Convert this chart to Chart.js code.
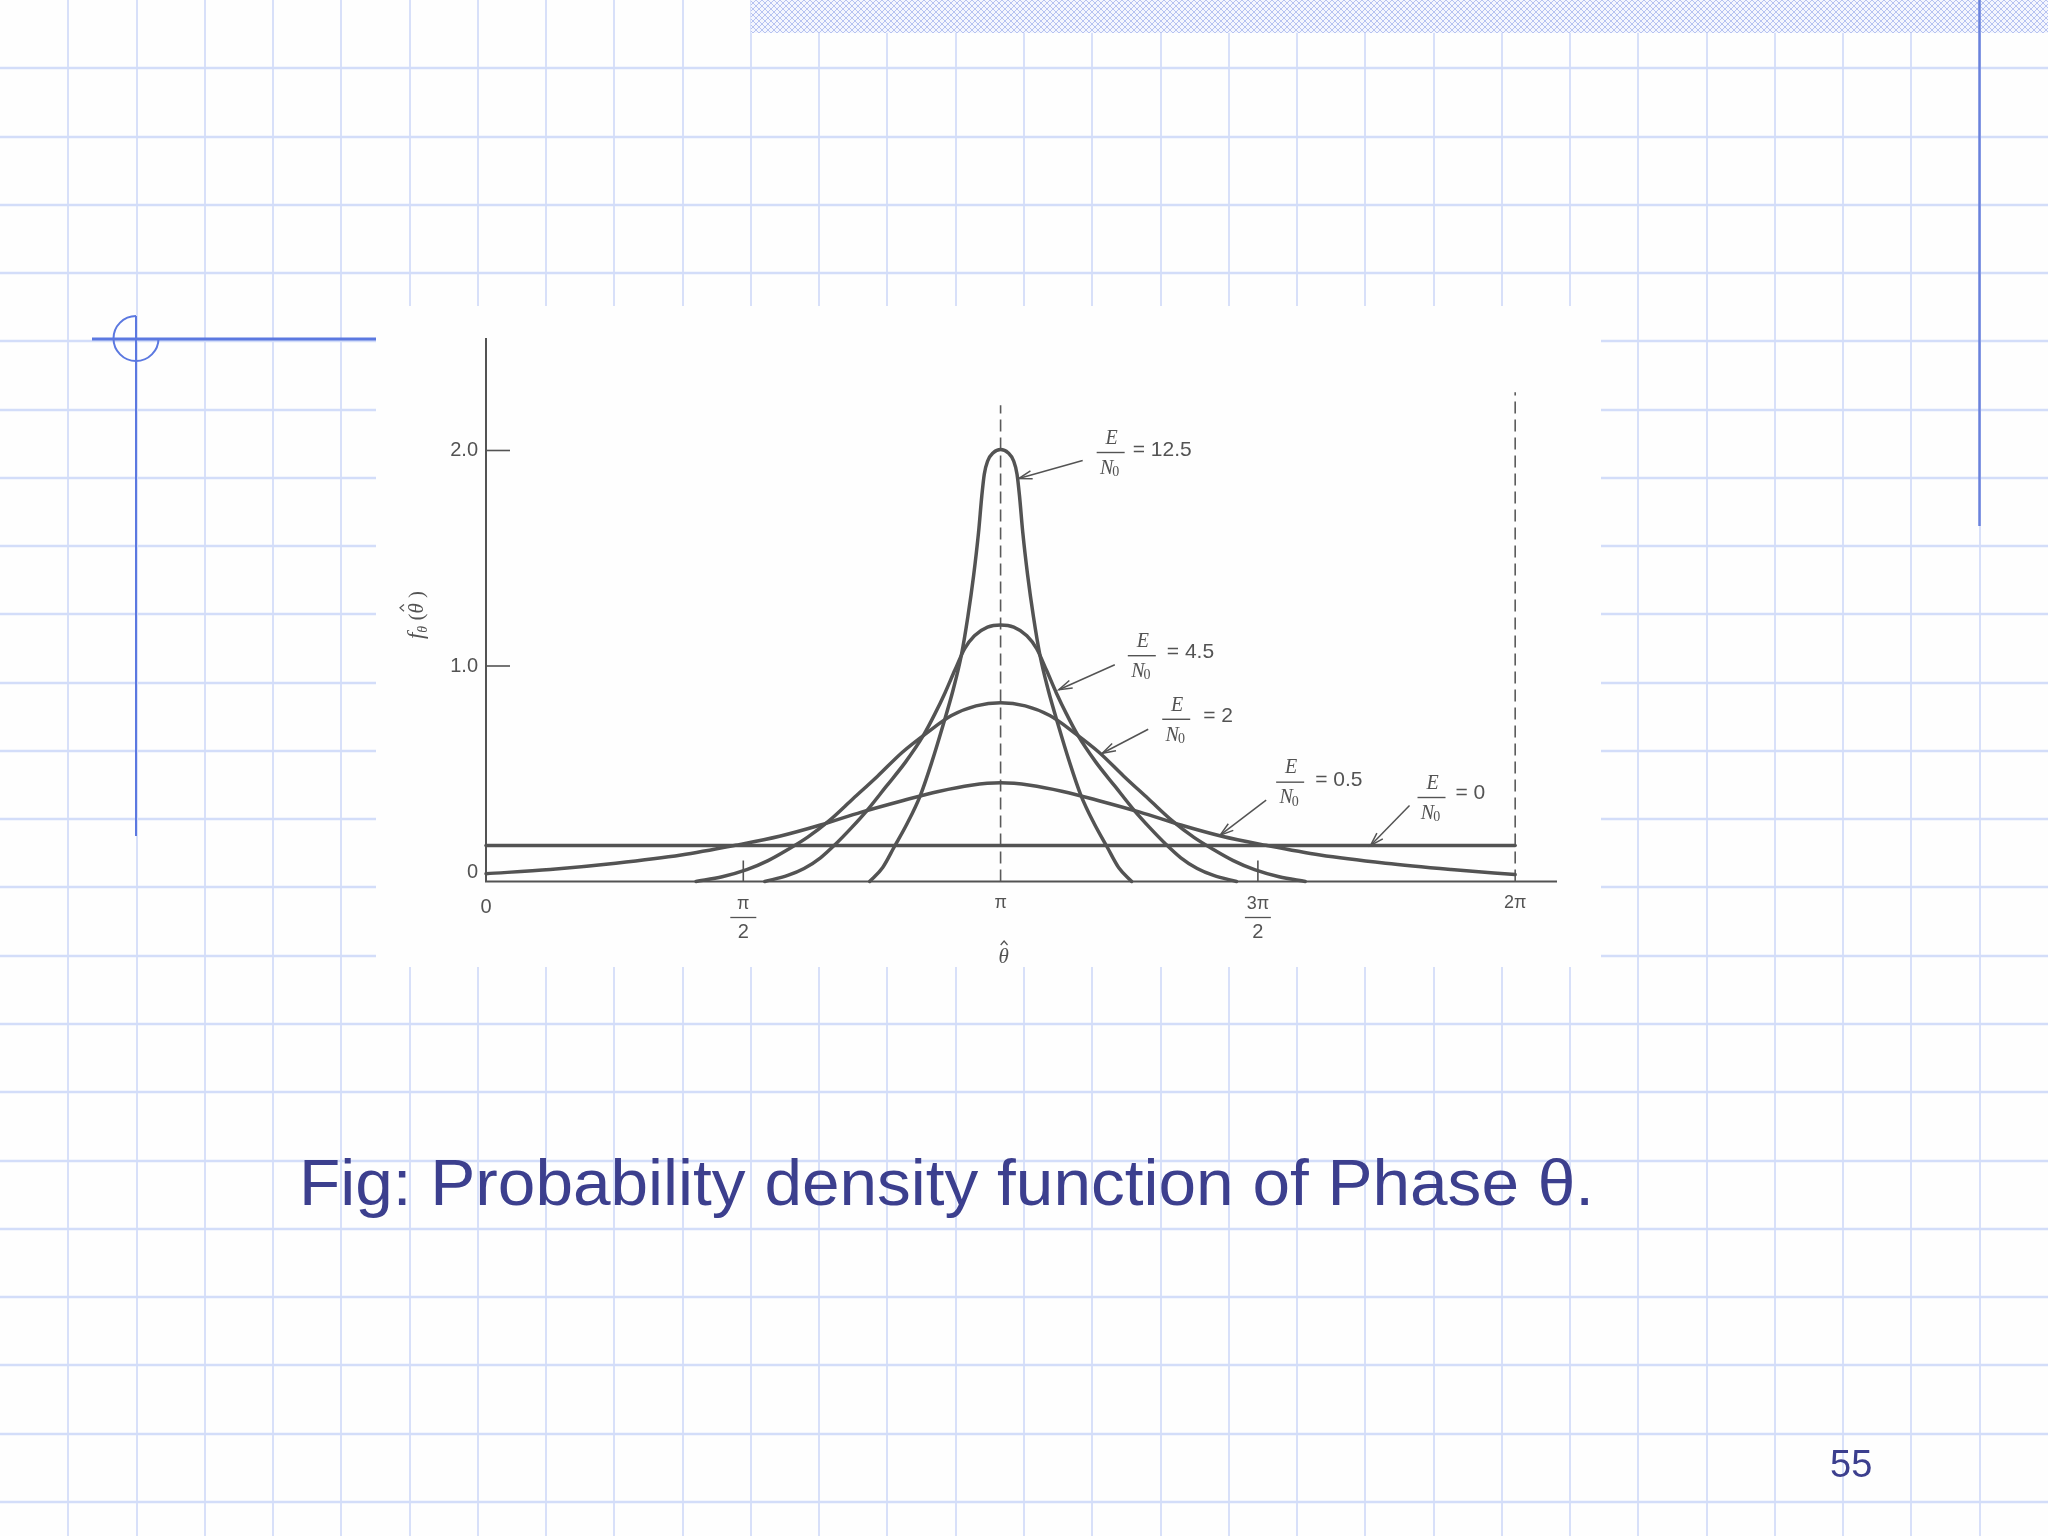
<!DOCTYPE html>
<html>
<head>
<meta charset="utf-8">
<script src="https://cdn.jsdelivr.net/npm/chart.js@4.4.0/dist/chart.umd.min.js"></script>
<style>
    html, body { margin: 0; padding: 0; background: #fefefe; }
    #page { position: relative; width: 2048px; height: 1536px; overflow: hidden; }
    #grafico { position: absolute; left: 0; top: 0; }
    #caption {
        position: absolute; left: 299px; top: 1150px;
        font-family: "Liberation Sans", Arial, sans-serif; font-size: 65px; line-height: 65px;
        color: #3c3f8e; white-space: nowrap; transform-origin: 0 0;
    }
    #pageNum {
        position: absolute; left: 1830px; top: 1445px;
        font-family: "Liberation Sans", Arial, sans-serif; font-size: 38px; line-height: 38px;
        color: #3c3f8e;
    }
</style>
</head>
<body>
<div id="page">
    <canvas id="grafico" width="2048" height="1536"></canvas>
    <div id="caption">Fig: Probability density function of Phase θ.</div>
    <div id="pageNum">55</div>
</div>
<script>
// --- Datos ---
const snrLabels = ['12.5', '4.5', '2', '0.5', '0'];

const theta125 = [2.342, 2.422, 2.492, 2.572, 2.652, 2.722, 2.792, 2.852, 2.902, 2.942, 2.977, 3.007, 3.027, 3.042, 3.062, 3.097, 3.142,
                  3.187, 3.222, 3.242, 3.257, 3.277, 3.307, 3.342, 3.382, 3.432, 3.492, 3.562, 3.632, 3.712, 3.792, 3.862, 3.942];
const f125 = [0, 0.065, 0.16, 0.27, 0.40, 0.555, 0.73, 0.89, 1.05, 1.23, 1.42, 1.62, 1.79, 1.89, 1.95, 1.99, 2.005,
              1.99, 1.95, 1.89, 1.79, 1.62, 1.42, 1.23, 1.05, 0.89, 0.73, 0.555, 0.40, 0.27, 0.16, 0.065, 0];

const theta45 = [1.702, 1.842, 1.942, 2.042, 2.132, 2.232, 2.332, 2.442, 2.562, 2.672, 2.742, 2.802, 2.862, 2.922, 2.982, 3.062, 3.142,
                 3.222, 3.302, 3.362, 3.422, 3.482, 3.542, 3.612, 3.722, 3.842, 3.952, 4.052, 4.152, 4.242, 4.342, 4.442, 4.582];
const f45 = [0, 0.028, 0.06, 0.11, 0.172, 0.25, 0.335, 0.44, 0.555, 0.68, 0.78, 0.875, 0.98, 1.08, 1.14, 1.18, 1.19,
             1.18, 1.14, 1.08, 0.98, 0.875, 0.78, 0.68, 0.555, 0.44, 0.335, 0.25, 0.172, 0.11, 0.06, 0.028, 0];

const theta2 = [1.282, 1.442, 1.592, 1.722, 1.842, 1.962, 2.092, 2.242, 2.392, 2.542, 2.692, 2.842, 2.992, 3.142,
                3.292, 3.442, 3.592, 3.742, 3.892, 4.042, 4.192, 4.322, 4.442, 4.562, 4.692, 4.842, 5.002];
const f2 = [0, 0.022, 0.055, 0.097, 0.148, 0.205, 0.28, 0.385, 0.49, 0.60, 0.69, 0.77, 0.815, 0.83,
            0.815, 0.77, 0.69, 0.60, 0.49, 0.385, 0.28, 0.205, 0.148, 0.097, 0.055, 0.022, 0];

const theta05 = [0, 0.392, 0.792, 1.192, 1.522, 1.792, 2.042, 2.292, 2.542, 2.762, 2.962, 3.142,
                 3.322, 3.522, 3.742, 3.992, 4.242, 4.492, 4.762, 5.092, 5.492, 5.892, 6.283];
const f05 = [0.036, 0.056, 0.085, 0.123, 0.168, 0.21, 0.262, 0.322, 0.375, 0.418, 0.447, 0.458,
             0.447, 0.418, 0.375, 0.322, 0.262, 0.21, 0.168, 0.123, 0.085, 0.056, 0.032];

const theta0 = [0, 6.283];
const f0 = [0.167, 0.167];

// lineas punteadas verticales en pi y 2pi
const guideTheta = [Math.PI, 2 * Math.PI];
const guideTop = [2.21, 2.27];

const xTickValues = [0, Math.PI / 2, Math.PI, 3 * Math.PI / 2, 2 * Math.PI];
const xTickNum = ['0', 'π', 'π', '3π', '2π'];
const xTickDen = ['', '2', '', '2', ''];
const yTickValues = [0, 1.0, 2.0];
const yTickLabels = ['0', '1.0', '2.0'];

// puntas de flecha de cada etiqueta E/N0 (theta, valor)
const arrowTheta = [3.252, 3.497, 3.762, 4.482, 5.40];
const arrowValue = [1.87, 0.89, 0.595, 0.215, 0.167];

// --- Helpers ---
const GRAY = '#535353';
const SANS = '"Liberation Sans", Arial, sans-serif';
const SERIF = '"Liberation Serif", "Times New Roman", serif';

function toPoints(xs, ys) {
    return xs.map((x, i) => ({ x: x, y: ys[i] }));
}

function curve(xs, ys) {
    return {
        data: toPoints(xs, ys),
        showLine: true,
        borderColor: GRAY,
        borderWidth: 3.5,
        pointRadius: 0,
        fill: false,
        tension: 0.4,
        cubicInterpolationMode: 'monotone',
        borderCapStyle: 'round',
        borderJoinStyle: 'round',
        clip: false
    };
}

function guide(i) {
    return {
        data: [{ x: guideTheta[i], y: 0 }, { x: guideTheta[i], y: guideTop[i] }],
        showLine: true,
        borderColor: '#5a5a5a',
        borderWidth: 1.6,
        borderDash: [12, 6],
        pointRadius: 0,
        clip: false
    };
}

function drawHat(ctx, x, w, topY) {
    ctx.beginPath();
    ctx.moveTo(x + w * 0.22, topY + 4);
    ctx.lineTo(x + w * 0.55, topY);
    ctx.lineTo(x + w * 0.88, topY + 4);
    ctx.stroke();
}

function drawFraction(ctx, cx, barY) {
    ctx.fillStyle = GRAY;
    ctx.strokeStyle = GRAY;
    ctx.lineWidth = 1.4;
    ctx.font = 'italic 20px ' + SERIF;
    ctx.textAlign = 'center';
    ctx.textBaseline = 'middle';
    ctx.fillText('E', cx + 1, barY - 14);
    ctx.beginPath();
    ctx.moveTo(cx - 14, barY);
    ctx.lineTo(cx + 14, barY);
    ctx.stroke();
    ctx.textAlign = 'left';
    const nW = ctx.measureText('N').width;
    const x0 = cx - (nW + 8) / 2;
    ctx.fillText('N', x0, barY + 16);
    ctx.font = '14px ' + SERIF;
    ctx.fillText('0', x0 + nW - 1, barY + 20);
}

function drawArrow(ctx, tx, ty, fx, fy) {
    ctx.strokeStyle = GRAY;
    ctx.lineWidth = 1.5;
    ctx.beginPath();
    ctx.moveTo(fx, fy);
    ctx.lineTo(tx, ty);
    ctx.stroke();
    const ang = Math.atan2(fy - ty, fx - tx);
    const len = 14, spread = 0.3;
    ctx.beginPath();
    ctx.moveTo(tx + len * Math.cos(ang - spread), ty + len * Math.sin(ang - spread));
    ctx.lineTo(tx, ty);
    ctx.lineTo(tx + len * Math.cos(ang + spread), ty + len * Math.sin(ang + spread));
    ctx.stroke();
}

// --- Fondo de la diapositiva ---
const fondoPlugin = {
    id: 'fondo',
    beforeDraw(chart) {
        const ctx = chart.ctx;
        const step = 2048 / 30;
        ctx.save();
        ctx.fillStyle = '#fefefe';
        ctx.fillRect(0, 0, 2048, 1536);

        ctx.strokeStyle = '#cfd9f8';
        ctx.lineWidth = 1.6;
        for (let k = 1; k < 30; k++) {
            const x = Math.round(k * step);
            ctx.beginPath(); ctx.moveTo(x, 0); ctx.lineTo(x, 1536); ctx.stroke();
        }
        ctx.strokeStyle = '#d3ddf9';
        ctx.lineWidth = 2.6;
        for (let k = 1; k <= 22; k++) {
            const y = Math.round(k * step);
            ctx.beginPath(); ctx.moveTo(0, y); ctx.lineTo(2048, y); ctx.stroke();
        }

        // banda rayada arriba a la derecha
        const pat = document.createElement('canvas');
        pat.width = 6; pat.height = 6;
        const p = pat.getContext('2d');
        p.fillStyle = '#f4f6fe';
        p.fillRect(0, 0, 6, 6);
        p.strokeStyle = 'rgba(168,182,238,0.8)';
        p.lineWidth = 1;
        p.beginPath(); p.moveTo(0, 0); p.lineTo(6, 6); p.moveTo(6, 0); p.lineTo(0, 6); p.stroke();
        ctx.fillStyle = ctx.createPattern(pat, 'repeat');
        ctx.fillRect(751, 0, 2048 - 751, 33);

        // linea azul vertical derecha
        ctx.strokeStyle = '#6a82dc';
        ctx.lineWidth = 2.5;
        ctx.beginPath(); ctx.moveTo(1979.5, 0); ctx.lineTo(1979.5, 526); ctx.stroke();

        // adorno izquierdo
        ctx.strokeStyle = '#5b78e0';
        ctx.lineWidth = 3;
        ctx.beginPath(); ctx.moveTo(92, 339); ctx.lineTo(380, 339); ctx.stroke();
        ctx.lineWidth = 2;
        ctx.beginPath(); ctx.moveTo(136, 316); ctx.lineTo(136, 836); ctx.stroke();
        ctx.beginPath(); ctx.arc(136, 338.5, 22.5, 0, 1.5 * Math.PI); ctx.stroke();

        // panel blanco de la figura
        ctx.fillStyle = '#fefefe';
        ctx.fillRect(376, 306, 1601 - 376, 967 - 306);
        ctx.restore();
    },
    beforeDatasetsDraw(chart) {
        const ctx = chart.ctx;
        const a = chart.chartArea;
        ctx.save();
        ctx.strokeStyle = GRAY;
        ctx.lineWidth = 2;
        ctx.beginPath();
        ctx.moveTo(a.left, a.top);
        ctx.lineTo(a.left, a.bottom);
        ctx.lineTo(a.right, a.bottom);
        ctx.stroke();
        ctx.restore();
    },
    afterDraw(chart) {
        const ctx = chart.ctx;
        const xs = chart.scales.x, ys = chart.scales.y;
        const a = chart.chartArea;
        ctx.save();
        ctx.fillStyle = GRAY;
        ctx.strokeStyle = GRAY;

        // marcas y etiquetas del eje y
        ctx.lineWidth = 1.6;
        ctx.font = '20px ' + SANS;
        ctx.textAlign = 'right';
        ctx.textBaseline = 'middle';
        yTickValues.forEach((v, i) => {
            const y = ys.getPixelForValue(v);
            if (v > 0) {
                ctx.beginPath(); ctx.moveTo(a.left, y); ctx.lineTo(a.left + 24, y); ctx.stroke();
                ctx.fillText(yTickLabels[i], a.left - 8, y);
            } else {
                ctx.fillText(yTickLabels[i], a.left - 8, y - 9);
            }
        });

        // marcas y etiquetas del eje x
        xTickValues.forEach((v, i) => {
            const x = xs.getPixelForValue(v);
            if (xTickDen[i]) {
                ctx.beginPath(); ctx.moveTo(x, a.bottom); ctx.lineTo(x, a.bottom - 21); ctx.stroke();
                ctx.font = '18px ' + SANS;
                ctx.textAlign = 'center';
                ctx.fillText(xTickNum[i], x, a.bottom + 23);
                ctx.lineWidth = 1.3;
                ctx.beginPath(); ctx.moveTo(x - 13, a.bottom + 36); ctx.lineTo(x + 13, a.bottom + 36); ctx.stroke();
                ctx.lineWidth = 1.6;
                ctx.font = '20px ' + SANS;
                ctx.fillText(xTickDen[i], x, a.bottom + 51);
            } else {
                ctx.font = (i === 0 ? '20px ' : '18px ') + SANS;
                ctx.textAlign = 'center';
                ctx.fillText(xTickNum[i], x, a.bottom + (i === 0 ? 26 : 22));
            }
        });

        // titulo del eje x: theta con sombrero
        const px = xs.getPixelForValue(Math.PI);
        ctx.font = 'italic 21px ' + SERIF;
        ctx.textAlign = 'left';
        const tw = ctx.measureText('θ').width;
        ctx.fillText('θ', px - tw / 2 + 3, 957);
        ctx.lineWidth = 1.2;
        drawHat(ctx, px - tw / 2 + 3, tw, 941);

        // titulo del eje y, girado
        ctx.save();
        ctx.translate(417, 615);
        ctx.rotate(-Math.PI / 2);
        const parts = [
            { t: 'f', f: 'italic 23px ' + SERIF, dy: 0 },
            { t: 'θ', f: 'italic 14px ' + SERIF, dy: 6 },
            { t: ' (', f: '21px ' + SERIF, dy: 0 },
            { t: 'θ', f: 'italic 21px ' + SERIF, dy: 0, hat: true },
            { t: ' )', f: '21px ' + SERIF, dy: 0 }
        ];
        let total = 0;
        parts.forEach(pt => { ctx.font = pt.f; pt.w = ctx.measureText(pt.t).width; total += pt.w; });
        let cx = -total / 2;
        ctx.textAlign = 'left';
        ctx.textBaseline = 'middle';
        ctx.lineWidth = 1.2;
        parts.forEach(pt => {
            ctx.font = pt.f;
            ctx.fillText(pt.t, cx, pt.dy);
            if (pt.hat) drawHat(ctx, cx, pt.w, -17);
            cx += pt.w;
        });
        ctx.restore();

        // etiquetas E/N0 con flechas
        const shift = [8, 8, 5, 3, 0];
        const tails = [[56, -18], [48, -25], [41, -24], [43, -35], [39, -40]];
        const bars = [[84, -26], [75, -34], [69, -34], [67, -53], [61, -48]];
        const texts = [[106, -28], [100, -37], [96, -37], [92, -55], [85, -52]];
        snrLabels.forEach((lab, i) => {
            const tx = xs.getPixelForValue(arrowTheta[i]);
            const ty = ys.getPixelForValue(arrowValue[i]);
            const s = shift[i];
            drawArrow(ctx, tx, ty, tx + tails[i][0] + s, ty + tails[i][1]);
            drawFraction(ctx, tx + bars[i][0] + s, ty + bars[i][1]);
            ctx.font = '21px ' + SANS;
            ctx.fillStyle = GRAY;
            ctx.textAlign = 'left';
            ctx.textBaseline = 'middle';
            ctx.fillText('= ' + lab, tx + texts[i][0] + s, ty + texts[i][1]);
        });
        ctx.restore();
    }
};

const ctxGrafico = document.getElementById('grafico').getContext('2d');

const grafico = new Chart(ctxGrafico, {
    type: 'scatter',
    data: {
        datasets: [
            curve(theta0, f0),
            curve(theta05, f05),
            curve(theta2, f2),
            curve(theta45, f45),
            curve(theta125, f125),
            guide(0),
            guide(1)
        ]
    },
    options: {
        responsive: false,
        animation: false,
        layout: { padding: { left: 486, right: 491, top: 338, bottom: 654.5 } },
        scales: {
            x: { type: 'linear', min: 0, max: 6.5385, display: false },
            y: { type: 'linear', min: 0, max: 2.522, display: false }
        },
        plugins: {
            legend: { display: false },
            tooltip: { enabled: false }
        }
    },
    plugins: [fondoPlugin]
});

// ajustar el ancho del pie de figura al original
const cap = document.getElementById('caption');
const capW = cap.getBoundingClientRect().width;
cap.style.transform = 'scaleX(' + (1295 / capW).toFixed(4) + ')';
</script>
</body>
</html>
